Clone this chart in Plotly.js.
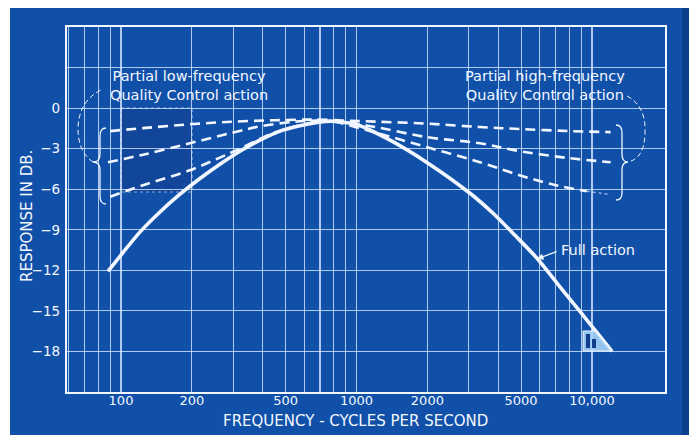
<!DOCTYPE html>
<html>
<head>
<meta charset="utf-8">
<script src="https://cdn.plot.ly/plotly-3.0.1.min.js"></script>
<style>html,body{margin:0;padding:0;background:#fff;}#chart{width:689px;height:435px;}</style>
</head>
<body>
<div id="chart"></div>
<script>
// ---- data ----
const fullFreq = [88, 99, 120, 146, 178, 217, 263, 320, 389, 487, 617, 772, 876, 995, 1388, 2012, 3034, 3800, 4710, 5840, 7310, 8890, 10400, 12160];
const fullDb   = [-12.07, -10.96, -9.19, -7.70, -6.37, -5.19, -4.15, -3.19, -2.37, -1.63, -1.19, -0.96, -1.04, -1.19, -2.37, -4.07, -6.30, -7.78, -9.41, -11.11, -13.22, -15.04, -16.52, -18.0];

const low1Freq = [90, 124, 196, 300, 450, 650, 850];
const low1Db   = [-1.7, -1.48, -1.2, -1.0, -0.9, -0.85, -0.9];
const low2Freq = [88, 124, 196, 300, 390, 550, 750];
const low2Db   = [-4.0, -3.45, -2.6, -1.8, -1.35, -1.0, -0.9];
const low3Freq = [90, 124, 196, 260, 320, 450, 650];
const low3Db   = [-6.55, -5.7, -4.6, -3.7, -3.0, -1.8, -1.05];

const high1Freq = [800, 1200, 2000, 3340, 5000, 8000, 12000];
const high1Db   = [-0.9, -1.0, -1.15, -1.4, -1.55, -1.7, -1.78];
const high2Freq = [800, 1200, 2000, 3340, 5000, 8000, 12000];
const high2Db   = [-0.9, -1.4, -2.15, -2.6, -3.2, -3.7, -4.0];
const high3Freq = [800, 1200, 2000, 3340, 5000, 7000, 9500];
const high3Db   = [-0.95, -1.8, -2.9, -4.0, -5.0, -5.7, -6.15];
const high3TailFreq = [9500, 12000];
const high3TailDb   = [-6.15, -6.4];

const gridFreqs  = [60,70,80,90,100,200,300,400,500,600,700,800,900,1000,2000,3000,4000,5000,6000,7000,8000,9000,10000];
const freqLabels = ['','','','','100','200','','','500','','','','','1000','2000','','','5000','','','','','10,000'];
const dbTicks  = [-21,-18,-15,-12,-9,-6,-3,0,3,6];
const dbLabels = ['','−18','−15','−12','−9','−6','−3','0','',''];

// ---- geometry helpers (pixel -> paper) ----
const L = 67, R = 665, T = 27, B = 392;
const px = x => (x - L) / (R - L);
const py = y => (B - y) / (B - T);
function path(pts) {
  return pts.map(p => p[0] + ' ' + p.slice(1).map((v, i) => i % 2 === 0 ? px(v).toFixed(5) : py(v).toFixed(5)).join(',')).join(' ');
}

const WHITE = '#f2f7ff';
const BLUE = '#1150a8';
const font = 'DejaVu Sans, sans-serif';

function dashed(xs, ys, extra) {
  return Object.assign({x: xs, y: ys, type: 'scatter', mode: 'lines',
    line: {color: WHITE, width: 2.6, dash: '10px,6px', shape: 'spline', smoothing: 1},
    hoverinfo: 'skip', showlegend: false}, extra || {});
}

const traces = [
  dashed(low1Freq, low1Db), dashed(low2Freq, low2Db), dashed(low3Freq, low3Db),
  dashed(high1Freq, high1Db), dashed(high2Freq, high2Db), dashed(high3Freq, high3Db),
  dashed(high3TailFreq, high3TailDb, {line: {color: 'rgba(230,240,255,0.7)', width: 1.3, dash: 'dot'}}),
  {x: fullFreq, y: fullDb, type: 'scatter', mode: 'lines',
   line: {color: WHITE, width: 3.6, shape: 'spline', smoothing: 0.8}, hoverinfo: 'skip', showlegend: false}
];

const shapes = [
  {type: 'rect', xref: 'paper', yref: 'paper', x0: px(10), x1: px(689), y0: py(8), y1: py(436),
   fillcolor: BLUE, line: {width: 0}, layer: 'below'},
  {type: 'rect', xref: 'paper', yref: 'paper', x0: px(682), x1: px(689), y0: py(8), y1: py(436),
   fillcolor: '#0a3f8e', line: {width: 0}, layer: 'below'},
  {type: 'rect', xref: 'paper', yref: 'paper', x0: px(121), x1: px(192), y0: py(108), y1: py(192),
   fillcolor: 'rgba(20,40,110,0.25)', line: {color: 'rgba(220,230,255,0.6)', width: 1.2, dash: 'dot'}, layer: 'below'},
  {type: 'path', xref: 'paper', yref: 'paper', line: {color: WHITE, width: 1.3},
   path: path([['M',106,128],['Q',100,128,100,136],['L',100,154],['Q',100,162,93,162],['Q',100,162,100,170],['L',100,196],['Q',100,204,106,204]])},
  {type: 'path', xref: 'paper', yref: 'paper', line: {color: WHITE, width: 1, dash: '5px,3px'},
   path: path([['M',93,162],['Q',78,152,78,128],['Q',79,100,103,89]])},
  {type: 'path', xref: 'paper', yref: 'paper', line: {color: WHITE, width: 1.3},
   path: path([['M',616,125],['Q',622,125,622,133],['L',622,154],['Q',622,162,628,162],['Q',622,162,622,170],['L',622,193],['Q',622,200,616,200]])},
  {type: 'path', xref: 'paper', yref: 'paper', line: {color: WHITE, width: 1, dash: '5px,3px'},
   path: path([['M',627,96],['Q',646,106,645,132],['Q',645,158,628,162]])},
  {type: 'path', xref: 'paper', yref: 'paper', fillcolor: 'rgba(170,215,250,0.85)', line: {color: WHITE, width: 1},
   path: path([['M',583,331],['L',595,331],['L',612,351],['L',583,351],['Z']])},
  {type: 'rect', xref: 'paper', yref: 'paper', x0: px(586), x1: px(590), y0: py(334), y1: py(348),
   fillcolor: '#123c8c', line: {width: 0}},
  {type: 'rect', xref: 'paper', yref: 'paper', x0: px(592), x1: px(596), y0: py(339), y1: py(348),
   fillcolor: '#123c8c', line: {width: 0}}
];

function label(text, x, y, opts) {
  return Object.assign({text: text, xref: 'paper', yref: 'paper', x: px(x), y: py(y),
    showarrow: false, xanchor: 'center', yanchor: 'middle',
    font: {family: font, size: 15, color: WHITE}}, opts || {});
}

const noteFont = {family: font, size: 14.5, color: WHITE};
const annotations = [
  label('Partial low-frequency<br>Quality Control action', 189, 85, {font: noteFont}),
  label('Partial high-frequency<br>Quality Control action', 545, 85, {font: noteFont}),
  label('Full action', 559, 250, {xanchor: 'left', font: noteFont}),
  {xref: 'paper', yref: 'paper', x: px(537), y: py(259), ax: px(558), ay: py(251), axref: 'paper', ayref: 'paper',
   text: '', showarrow: true, arrowhead: 2, arrowsize: 1, arrowwidth: 1.3, arrowcolor: WHITE},
  label('RESPONSE IN DB.', 27, 216, {textangle: -90}),
  label('FREQUENCY - CYCLES PER SECOND', 355, 421)
];

const layout = {
  width: 689, height: 435,
  margin: {l: L, r: 689 - R, t: T, b: 435 - B, pad: 0},
  paper_bgcolor: '#ffffff',
  plot_bgcolor: BLUE,
  showlegend: false,
  font: {family: font, size: 13, color: WHITE},
  xaxis: {type: 'log', range: [1.7707, 4.3100], tickmode: 'array', tickvals: gridFreqs, ticktext: freqLabels,
    showgrid: true, gridcolor: 'rgba(215,232,255,0.8)', gridwidth: 1.1,
    showline: true, linecolor: WHITE, linewidth: 2.2, mirror: true, ticks: '', zeroline: false,
    tickfont: {family: font, size: 13, color: WHITE}, ticklabelstandoff: -5, fixedrange: true},
  yaxis: {range: [-21, 6], tickmode: 'array', tickvals: dbTicks, ticktext: dbLabels,
    showgrid: true, gridcolor: 'rgba(215,232,255,0.8)', gridwidth: 1.1,
    showline: true, linecolor: WHITE, linewidth: 2.2, mirror: true, ticks: '', zeroline: false,
    tickfont: {family: font, size: 13.5, color: WHITE}, ticklabelstandoff: 2, fixedrange: true},
  shapes: shapes,
  annotations: annotations
};

Plotly.newPlot('chart', traces, layout, {displayModeBar: false, staticPlot: true});
</script>
</body>
</html>
